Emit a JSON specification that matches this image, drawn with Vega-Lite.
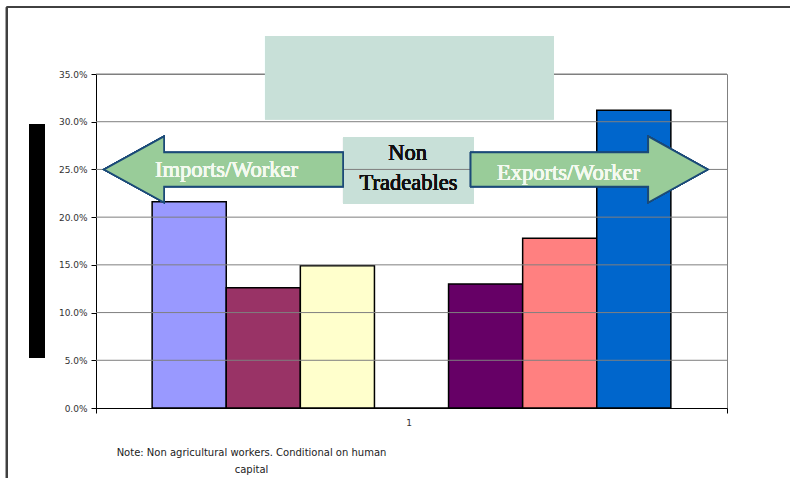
{
  "$schema": "https://vega.github.io/schema/vega-lite/v6.json",
  "width": 631,
  "height": 334,
  "autosize": {"type": "none"},
  "padding": {"left": 96, "top": 74, "right": 63, "bottom": 70},
  "background": "white",
  "config": {
    "view": {"stroke": "#808080", "strokeWidth": 1},
    "axis": {
      "labelFont": "DejaVu Sans",
      "labelFontSize": 9,
      "labelColor": "#333333",
      "domainColor": "#000000",
      "domainWidth": 1,
      "tickColor": "#000000",
      "tickSize": 5,
      "grid": false
    }
  },
  "datasets": {
    "bars": [
      {"cat": "1", "series": "Import 1", "value": 0.216},
      {"cat": "1", "series": "Import 2", "value": 0.126},
      {"cat": "1", "series": "Import 3", "value": 0.149},
      {"cat": "1", "series": "Non tradeables", "value": 0},
      {"cat": "1", "series": "Export 1", "value": 0.130},
      {"cat": "1", "series": "Export 2", "value": 0.178},
      {"cat": "1", "series": "Export 3", "value": 0.312}
    ],
    "grid": [
      {"tick": 0.05}, {"tick": 0.10}, {"tick": 0.15}, {"tick": 0.20},
      {"tick": 0.25}, {"tick": 0.30}, {"tick": 0.35}
    ]
  },
  "layer": [
    {
      "data": {"name": "bars"},
      "mark": {"type": "point", "shape": "M -65.5 -32 L 65.5 -32 L 65.5 34 L -65.5 34 Z", "size": 4, "filled": true, "fill": "#c8e0d8", "strokeWidth": 0, "opacity": 1},
      "encoding": {
        "x": {"datum": "1", "type": "nominal", "bandPosition": 0.4952},
        "y": {"datum": 0.25, "type": "quantitative"}
      }
    },
    {
      "data": {"name": "bars"},
      "mark": {"type": "bar", "stroke": "#000000", "strokeWidth": 1.5},
      "encoding": {
        "x": {
          "field": "cat",
          "type": "nominal",
          "scale": {"paddingInner": 0, "paddingOuter": 0},
          "axis": {
            "labelAngle": 0,
            "labelPadding": 9,
            "tickBand": "extent",
            "labelFontSize": 9,
            "title": ["Note: Non agricultural workers. Conditional on human", "capital"],
            "titleFont": "DejaVu Sans",
            "titleFontSize": 10,
            "titleFontWeight": "normal",
            "titleColor": "#222222",
            "titleX": 155,
            "titleY": 47.5,
            "titleAlign": "center",
            "titleBaseline": "alphabetic",
            "titleLineHeight": 16.5
          }
        },
        "xOffset": {
          "field": "series",
          "type": "nominal",
          "scale": {
            "domain": ["Import 1", "Import 2", "Import 3", "Non tradeables", "Export 1", "Export 2", "Export 3"],
            "paddingInner": 0,
            "paddingOuter": 0.7575
          }
        },
        "y": {
          "field": "value",
          "type": "quantitative",
          "scale": {"domain": [0, 0.35], "nice": false},
          "axis": {"values": [0, 0.05, 0.1, 0.15, 0.2, 0.25, 0.3, 0.35], "format": ".1%", "title": null, "labelPadding": 4}
        },
        "color": {
          "field": "series",
          "type": "nominal",
          "scale": {
            "domain": ["Import 1", "Import 2", "Import 3", "Non tradeables", "Export 1", "Export 2", "Export 3"],
            "range": ["#9999ff", "#993366", "#ffffcc", "#ffffff", "#660066", "#ff8080", "#0066cc"]
          },
          "legend": null
        }
      }
    },
    {
      "data": {"name": "grid"},
      "mark": {"type": "rule", "color": "#7f7f7f", "strokeWidth": 1},
      "encoding": {"y": {"field": "tick", "type": "quantitative"}}
    },
    {
      "data": {"name": "bars"},
      "mark": {"type": "point", "shape": "M 0 0 L 60 -33 L 60 -17 L 239 -17 L 239 17 L 60 17 L 60 33 Z", "size": 4, "filled": true, "fill": "#99cc99", "stroke": "#1b4a78", "strokeWidth": 1.6, "opacity": 1},
      "encoding": {
        "x": {"datum": "1", "type": "nominal", "bandPosition": 0.0127},
        "y": {"datum": 0.25, "type": "quantitative"}
      }
    },
    {
      "data": {"name": "bars"},
      "mark": {"type": "point", "shape": "M 0 0 L -59.4 -33 L -59.4 -17 L -237 -17 L -237 17 L -59.4 17 L -59.4 33 Z", "size": 4, "filled": true, "fill": "#99cc99", "stroke": "#1b4a78", "strokeWidth": 1.6, "opacity": 1},
      "encoding": {
        "x": {"datum": "1", "type": "nominal", "bandPosition": 0.9694},
        "y": {"datum": 0.25, "type": "quantitative"}
      }
    },
    {
      "data": {"name": "bars"},
      "mark": {"type": "text", "text": "Imports/Worker", "font": "Liberation Serif", "fontSize": 22.5, "fontWeight": 400, "fill": "#f4faf0", "strokeWidth": 0, "opacity": 1, "align": "center", "baseline": "alphabetic"},
      "encoding": {
        "x": {"datum": "1", "type": "nominal", "bandPosition": 0.2068},
        "y": {"datum": 0.2424, "type": "quantitative"}
      }
    },
    {
      "data": {"name": "bars"},
      "mark": {"type": "text", "text": "Exports/Worker", "font": "Liberation Serif", "fontSize": 22.5, "fontWeight": 400, "fill": "#f4faf0", "strokeWidth": 0, "opacity": 1, "align": "center", "baseline": "alphabetic"},
      "encoding": {
        "x": {"datum": "1", "type": "nominal", "bandPosition": 0.7488},
        "y": {"datum": 0.2389, "type": "quantitative"}
      }
    },
    {
      "data": {"name": "bars"},
      "mark": {"type": "text", "text": "Non", "font": "Liberation Serif", "fontSize": 22.5, "fontWeight": 400, "fill": "#111111", "strokeWidth": 0, "opacity": 1, "align": "center", "baseline": "alphabetic"},
      "encoding": {
        "x": {"datum": "1", "type": "nominal", "bandPosition": 0.4937},
        "y": {"datum": 0.2599, "type": "quantitative"}
      }
    },
    {
      "data": {"name": "bars"},
      "mark": {"type": "text", "text": "Tradeables", "font": "Liberation Serif", "fontSize": 22.5, "fontWeight": 400, "fill": "#111111", "strokeWidth": 0, "opacity": 1, "align": "center", "baseline": "alphabetic"},
      "encoding": {
        "x": {"datum": "1", "type": "nominal", "bandPosition": 0.4952},
        "y": {"datum": 0.2284, "type": "quantitative"}
      }
    },
    {
      "data": {"name": "bars"},
      "mark": {"type": "point", "shape": "M -144.5 -38 L 144.5 -38 L 144.5 45.3 L -144.5 45.3 Z", "size": 4, "filled": true, "fill": "#c8e0d8", "strokeWidth": 0, "opacity": 1},
      "encoding": {
        "x": {"datum": "1", "type": "nominal", "bandPosition": 0.4968},
        "y": {"datum": 0.35, "type": "quantitative"}
      }
    },
    {
      "data": {"name": "bars"},
      "mark": {"type": "point", "shape": "M -8 -117 L 8 -117 L 8 116.7 L -8 116.7 Z", "size": 4, "filled": true, "fill": "#000000", "strokeWidth": 0, "opacity": 1},
      "encoding": {
        "x": {"datum": "1", "type": "nominal", "bandPosition": -0.0935},
        "y": {"datum": 0.175, "type": "quantitative"}
      }
    },
    {
      "data": {"name": "bars"},
      "mark": {"type": "point", "shape": "M 0 0 L 0 475", "size": 4, "filled": false, "fill": "transparent", "stroke": "#404040", "strokeWidth": 1.6, "opacity": 1},
      "encoding": {
        "x": {"datum": "1", "type": "nominal", "bandPosition": -0.1415},
        "y": {"datum": 0.42, "type": "quantitative"}
      }
    },
    {
      "data": {"name": "bars"},
      "mark": {"type": "point", "shape": "M 0 0 L 790 0", "size": 4, "filled": false, "fill": "transparent", "stroke": "#404040", "strokeWidth": 1.6, "opacity": 1},
      "encoding": {
        "x": {"datum": "1", "type": "nominal", "bandPosition": -0.1415},
        "y": {"datum": 0.42, "type": "quantitative"}
      }
    }
  ]
}
